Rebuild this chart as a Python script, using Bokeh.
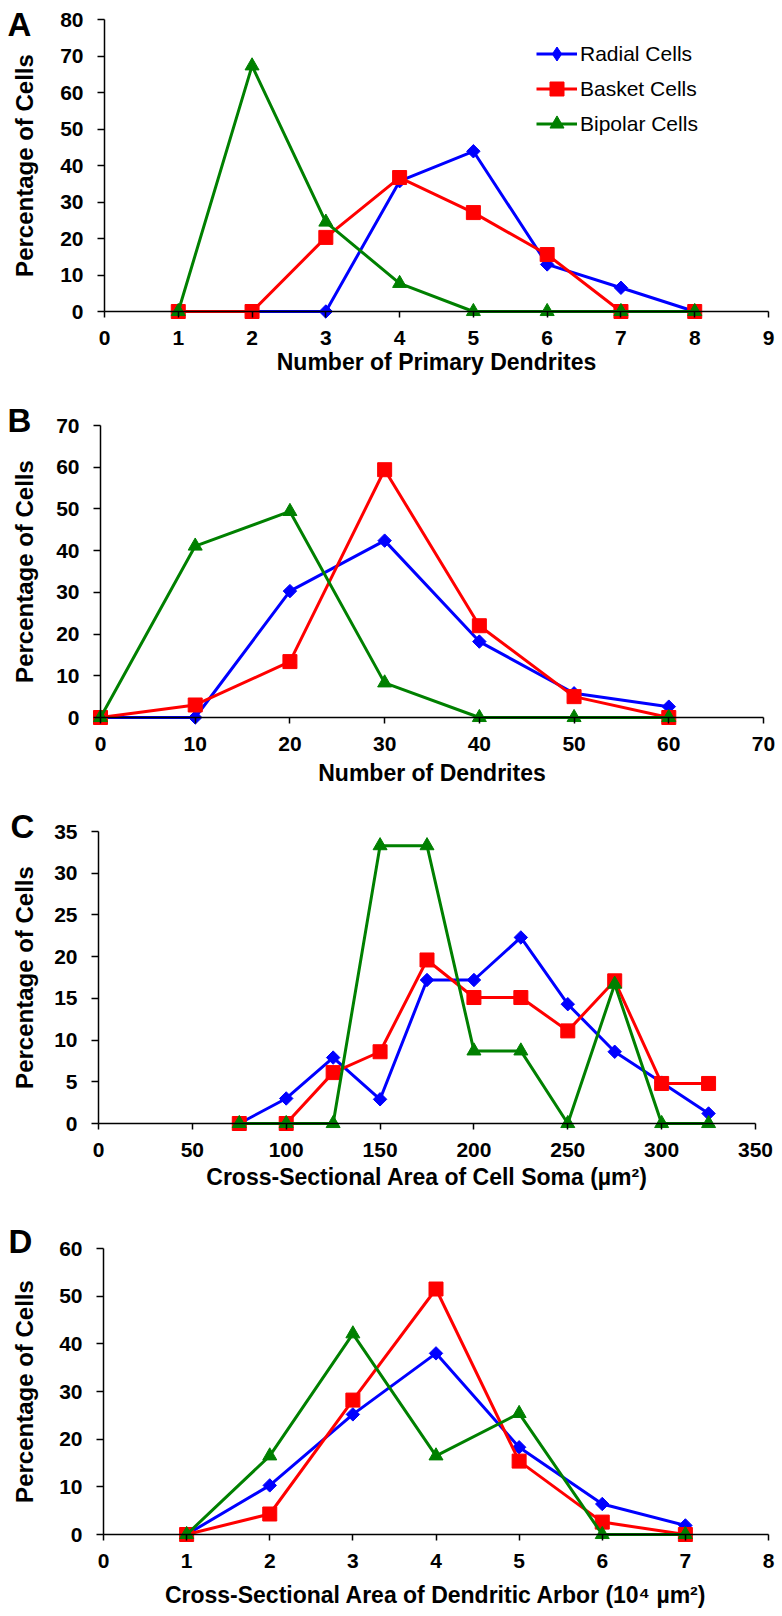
import math
from bokeh.plotting import figure
from bokeh.models import (Range1d, LinearAxis, FixedTicker, Label, Legend,
                          LegendItem, ColumnDataSource)
from bokeh.layouts import column
from bokeh.embed import file_html
from bokeh.resources import INLINE

# ---------------- data ----------------
series_names = ["Radial Cells", "Basket Cells", "Bipolar Cells"]

# Panel A: number of primary dendrites
a_x = [1, 2, 3, 4, 5, 6, 7, 8]
a_radial = [0, 0, 0, 35.7, 43.9, 12.9, 6.5, 0]
a_basket = [0, 0, 20.3, 36.7, 27.1, 15.6, 0, 0]
a_bipolar = [0, 67.3, 24.5, 7.7, 0, 0, 0, 0]
a_xticks = [0, 1, 2, 3, 4, 5, 6, 7, 8, 9]
a_yticks = [0, 10, 20, 30, 40, 50, 60, 70, 80]

# Panel B: number of dendrites
b_x = [0, 10, 20, 30, 40, 50, 60]
b_radial = [0, 0, 30.3, 42.4, 18.2, 5.8, 2.6]
b_basket = [0, 3.0, 13.4, 59.4, 22.0, 5.0, 0]
b_bipolar = [0, 41.1, 49.4, 8.3, 0, 0, 0]
b_xticks = [0, 10, 20, 30, 40, 50, 60, 70]
b_yticks = [0, 10, 20, 30, 40, 50, 60, 70]

# Panel C: cross-sectional area of cell soma
c_x = [75, 100, 125, 150, 175, 200, 225, 250, 275, 300, 325]
c_radial = [0, 3.0, 7.9, 2.9, 17.2, 17.2, 22.3, 14.3, 8.6, 4.9, 1.2]
c_basket = [0, 0, 6.1, 8.6, 19.6, 15.1, 15.1, 11.1, 17.1, 4.8, 4.8]
c_bipolar = [0, 0, 0, 33.3, 33.3, 8.7, 8.7, 0, 16.7, 0, 0]
c_xticks = [0, 50, 100, 150, 200, 250, 300, 350]
c_yticks = [0, 5, 10, 15, 20, 25, 30, 35]

# Panel D: cross-sectional area of dendritic arbor
d_x = [1, 2, 3, 4, 5, 6, 7]
d_radial = [0, 10.3, 25.2, 38.0, 18.3, 6.4, 1.9]
d_basket = [0, 4.3, 28.2, 51.5, 15.4, 2.6, 0]
d_bipolar = [0, 16.5, 42.1, 16.5, 25.4, 0, 0]
d_xticks = [0, 1, 2, 3, 4, 5, 6, 7, 8]
d_yticks = [0, 10, 20, 30, 40, 50, 60]

panels = [
    dict(letter="A", x=a_x, ys=[a_radial, a_basket, a_bipolar], xmax=9, ymax=80,
         xticks=a_xticks, yticks=a_yticks, xlabel="Number of Primary Dendrites", legend=True),
    dict(letter="B", x=b_x, ys=[b_radial, b_basket, b_bipolar], xmax=70, ymax=70,
         xticks=b_xticks, yticks=b_yticks, xlabel="Number of Dendrites", legend=False),
    dict(letter="C", x=c_x, ys=[c_radial, c_basket, c_bipolar], xmax=350, ymax=35,
         xticks=c_xticks, yticks=c_yticks,
         xlabel="Cross-Sectional Area of Cell Soma (\u00b5m\u00b2)", legend=False),
    dict(letter="D", x=d_x, ys=[d_radial, d_basket, d_bipolar], xmax=8, ymax=60,
         xticks=d_xticks, yticks=d_yticks,
         xlabel="Cross-Sectional Area of Dendritic Arbor (10\u2074 \u00b5m\u00b2)", legend=False),
]

# ---------------- styles / layout (page pixels) ----------------
FONT = "Liberation Sans"
COLORS = ["#0000FF", "#FF0000", "#008000"]
MARKERS = ["square", "square", "triangle"]
MSIZES = [9.5, 14, 14]
MANGLES = [math.pi / 4, 0, 0]
LEGEND_MARKERS = ["diamond", "square", "triangle"]
FIG_W = 780
# axL/axR: pixel x of x=0 / x=max ; yT/y0: pixel y of y=max / y=0
# lx, lb: panel letter left / baseline ; xoff: x-title baseline below the axis
layouts = [
    dict(axL=104, axR=768, yT=19, y0=311, top=0, bottom=380, lx=7, lb=36, xoff=59),
    dict(axL=100, axR=763, yT=425, y0=717, top=380, bottom=790, lx=7, lb=432, xoff=64),
    dict(axL=98, axR=755, yT=831, y0=1123, top=790, bottom=1200, lx=10, lb=838, xoff=62),
    dict(axL=103, axR=768, yT=1248, y0=1534, top=1200, bottom=1614, lx=8, lb=1253, xoff=69),
]
YTITLE_BASE_X = 33
LETTER_PX, YTITLE_PX, XTITLE_PX = 33, 24, 23
BASE_SHIFT = 0.36   # renderer draws "alphabetic" text this many em lower


def make_panel(d, L):
    fh = L["bottom"] - L["top"]
    ux = d["xmax"] / (L["axR"] - L["axL"])
    uy = d["ymax"] / (L["y0"] - L["yT"])

    def dx(px):  # page pixel x -> data x
        return (px - L["axL"]) * ux

    def dy(py):  # page pixel y -> data y
        return (L["y0"] - py) * uy

    p = figure(width=FIG_W, height=fh,
               x_range=Range1d(dx(0), dx(FIG_W)), y_range=Range1d(dy(L["bottom"]), dy(L["top"])),
               output_backend="svg", toolbar_location=None,
               x_axis_location=None, y_axis_location=None,
               min_border_left=0, min_border_right=0, min_border_top=0, min_border_bottom=0)
    p.grid.visible = False
    p.outline_line_color = None
    p.background_fill_color = "white"
    p.border_fill_color = "white"

    xa = LinearAxis(fixed_location=0, bounds=(0, d["xmax"]), ticker=FixedTicker(ticks=d["xticks"]))
    ya = LinearAxis(fixed_location=0, bounds=(0, d["ymax"]), ticker=FixedTicker(ticks=d["yticks"]))
    for ax, tout, st in ((xa, 6, 13), (ya, 7, 14)):
        ax.major_tick_out = tout
        ax.major_tick_in = 0
        ax.minor_tick_out = 0
        ax.minor_tick_in = 0
        ax.axis_line_color = "black"
        ax.axis_line_width = 1.5
        ax.major_tick_line_width = 1.5
        ax.major_tick_line_color = "black"
        ax.major_label_text_font = FONT
        ax.major_label_text_font_style = "bold"
        ax.major_label_text_font_size = "21px"
        ax.major_label_text_color = "black"
        ax.major_label_standoff = st
    p.add_layout(xa, "below")
    p.add_layout(ya, "left")

    items = []
    for name, yv, col, mk, ms, ma, lm in zip(series_names, d["ys"], COLORS, MARKERS,
                                             MSIZES, MANGLES, LEGEND_MARKERS):
        src = ColumnDataSource(dict(x=d["x"], y=yv))
        lr = p.line("x", "y", source=src, line_color=col, line_width=3)
        p.scatter("x", "y", source=src, marker=mk, size=ms, angle=ma,
                  fill_color=col, line_color=col)
        if d["legend"]:
            hr = p.scatter("x", "y", source=src, marker=lm, size=ms,
                           fill_color=col, line_color=col, visible=False)
            items.append(LegendItem(label=name, renderers=[lr, hr]))

    if d["legend"]:
        leg = Legend(items=items, location=(536, fh - 141))
        leg.glyph_width = 41
        leg.glyph_height = 35
        leg.label_height = 35
        leg.label_standoff = 3
        leg.spacing = 0
        leg.padding = 0
        leg.margin = 0
        leg.border_line_color = None
        leg.background_fill_alpha = 0
        leg.label_text_font = FONT
        leg.label_text_font_size = "21px"
        leg.label_text_color = "black"
        p.add_layout(leg)

    p.add_layout(Label(x=dx(L["lx"]), y=dy(L["lb"] - BASE_SHIFT * LETTER_PX),
                       text=d["letter"], text_font=FONT, text_font_style="bold",
                       text_color="black",
                       text_font_size=f"{LETTER_PX}px", text_baseline="alphabetic",
                       text_align="left"))
    p.add_layout(Label(x=dx(YTITLE_BASE_X - BASE_SHIFT * YTITLE_PX), y=d["ymax"] / 2,
                       angle=math.pi / 2,
                       text="Percentage of Cells", text_font=FONT, text_font_style="bold",
                       text_color="black",
                       text_font_size=f"{YTITLE_PX}px", text_baseline="alphabetic",
                       text_align="center"))
    p.add_layout(Label(x=d["xmax"] / 2, y=dy(L["y0"] + L["xoff"] - BASE_SHIFT * XTITLE_PX),
                       text=d["xlabel"], text_font=FONT, text_font_style="bold",
                       text_color="black",
                       text_font_size=f"{XTITLE_PX}px", text_baseline="alphabetic",
                       text_align="center"))
    return p


figs = [make_panel(d, L) for d, L in zip(panels, layouts)]
page = column(*figs, spacing=0)
open("out.html", "w").write(file_html(page, INLINE))
